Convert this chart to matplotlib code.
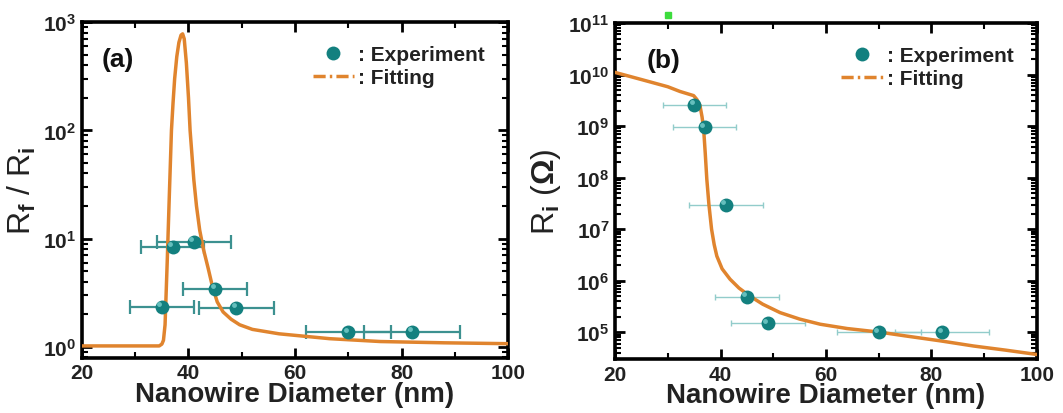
import numpy as np
import matplotlib
matplotlib.use("Agg")
import matplotlib.pyplot as plt
from matplotlib.lines import Line2D
from matplotlib import transforms
from matplotlib.ticker import LogLocator, MultipleLocator

plt.rcParams['font.family'] = ['Liberation Sans', 'DejaVu Sans']
plt.rcParams['font.weight'] = 'bold'
plt.rcParams['mathtext.fontset'] = 'custom'
plt.rcParams['mathtext.rm'] = 'Liberation Sans:bold'
plt.rcParams['mathtext.it'] = 'Liberation Sans:bold'
plt.rcParams['mathtext.bf'] = 'Liberation Sans:bold'
plt.rcParams['text.color'] = '#222222'
plt.rcParams['axes.labelcolor'] = '#222222'

# measured nanowires
diameter = [35, 37, 41, 45, 49, 70, 82]
diameter_err = [6, 6, 7, 6, 7, 8, 9]
ratio = [2.35, 8.4, 9.4, 3.45, 2.3, 1.37, 1.38]
r_init = [2.6e9, 9.5e8, 3.0e7, 4.9e5, 1.5e5, 1.0e5, 1.0e5]

# fitted curve for Rf/Ri
fit_a_x = [20, 30, 34.5, 35.0, 35.3, 35.6, 36.0, 36.4, 36.8, 37.1, 37.4, 37.8,
           38.2, 38.6, 38.9, 39.2, 39.6, 40.0, 40.3, 40.7, 41.0, 41.5, 42.1,
           42.8, 43.7, 44.5, 45.4, 46.5, 48.0, 49.6, 52, 57, 66.5, 76, 88, 100]
fit_a_y = [1.02, 1.02, 1.02, 1.06, 1.15, 1.6, 6, 25, 100, 180, 300, 480,
           650, 760, 780, 700, 420, 200, 100, 55, 35, 20, 12,
           8, 5.3, 3.6, 2.6, 2.1, 1.8, 1.6, 1.45, 1.32, 1.19, 1.12, 1.09, 1.07]

# fitted curve for Ri
fit_b_x = [20, 25, 30, 32.3, 34.9, 35.5, 36.1, 36.5, 36.8, 37.1, 37.4, 37.8,
           38.3, 38.8, 39.3, 40.3, 41.8, 43.5, 45.6, 48, 51.3, 55, 58.9,
           64, 70.3, 75, 81.7, 88, 94, 100]
fit_b_y = [1.1e10, 8.0e9, 5.8e9, 4.7e9, 3.9e9, 3.3e9, 2.5e9, 1.5e9, 8.7e8, 3.0e8,
           9.3e7, 3.0e7, 1.0e7, 5.0e6, 3.0e6, 1.7e6, 1.07e6, 7.2e5, 5.0e5,
           3.5e5, 2.4e5, 1.8e5, 1.43e5, 1.18e5, 1.0e5, 8.5e4, 6.8e4, 5.4e4,
           4.5e4, 3.7e4]

orange = '#E0842E'
teal = '#13807F'

fig = plt.figure(figsize=(10.63, 4.14), dpi=100)
ax1 = fig.add_axes([0.0771, 0.133, 0.4009, 0.811])
ax2 = fig.add_axes([0.5786, 0.130, 0.3969, 0.812])


def spheres(ax, x, y, err, ecol, elw, capsize):
    ax.errorbar(x, y, xerr=err, fmt='none', ecolor=ecol, elinewidth=elw,
                capsize=capsize, capthick=elw, zorder=2)
    ax.plot(x, y, 'o', color=teal, ms=10, mec='none', zorder=4)
    shine = transforms.offset_copy(ax.transData, fig=fig, x=-2.5, y=2.5, units='dots')
    ax.plot(x, y, 'o', color='#74cbc9', ms=3.5, mec='none', alpha=0.85,
            transform=shine, zorder=5)


def style(ax, ylo, yhi):
    ax.set_yscale('log')
    ax.set_xlim(20, 100)
    ax.set_ylim(ylo, yhi)
    ax.xaxis.set_major_locator(MultipleLocator(20))
    ax.xaxis.set_minor_locator(MultipleLocator(10))
    ax.yaxis.set_major_locator(LogLocator(base=10, numticks=20))
    ax.yaxis.set_minor_locator(LogLocator(base=10, subs=np.arange(2, 10), numticks=50))
    ax.tick_params(which='both', direction='in', top=True, right=True,
                   labelsize=15, width=2, labelcolor='#222222', pad=4)
    ax.tick_params(which='major', length=7)
    ax.tick_params(which='minor', length=4, width=1.5)
    for s in ax.spines.values():
        s.set_linewidth(2.6)
    ax.set_xlabel('Nanowire Diameter (nm)', fontsize=20, fontweight='bold', labelpad=-1)
    handles = [Line2D([], [], marker='o', ls='none', color=teal, ms=10, mec='none'),
               Line2D([], [], ls=(0, (3.5, 1.2, 0.7, 1.2)), color=orange, lw=2.5)]
    ax.legend(handles, [': Experiment', ': Fitting'], loc='upper right',
              frameon=False, fontsize=15, handlelength=2.0, handletextpad=0.2,
              labelspacing=0.2, borderaxespad=0.7)


# (a) resistance ratio
spheres(ax1, diameter, ratio, diameter_err, '#3c9190', 1.6, 5)
ax1.plot(fit_a_x, fit_a_y, color=orange, lw=2.5, zorder=3)
style(ax1, 0.79, 1000)
ax1.set_ylabel(r'R$_{f}$ / R$_{i}$', fontsize=23, labelpad=4)
ax1.text(0.047, 0.869, '(a)', transform=ax1.transAxes, fontsize=19,
         fontweight='bold', va='baseline', color='#111111')

# (b) initial resistance
spheres(ax2, diameter, r_init, diameter_err, '#92cccb', 1.0, 2.5)
ax2.plot(fit_b_x, fit_b_y, color=orange, lw=2.5, zorder=3)
style(ax2, 3.0e4, 1e11)
ax2.set_ylabel(r'R$_{i}$ ($\Omega$)', fontsize=23, labelpad=4)
ax2.text(0.076, 0.869, '(b)', transform=ax2.transAxes, fontsize=19,
         fontweight='bold', va='baseline', color='#111111')
ax2.plot([30], [1.45e11], 's', color='#3ddc3d', ms=4, clip_on=False, zorder=6)

fig.savefig('out.png', dpi=100)
